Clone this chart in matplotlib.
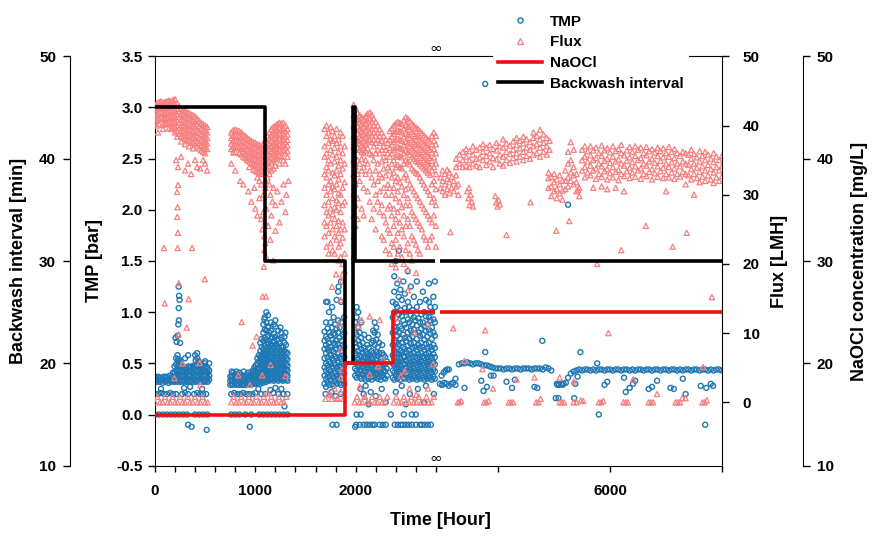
import numpy as np
import matplotlib.pyplot as plt
from matplotlib.lines import Line2D

plt.rcParams['font.family'] = ['Liberation Sans', 'DejaVu Sans']
plt.rcParams['font.weight'] = 'bold'

# ---------------- data (hours, values) ----------------
# TMP [bar], dense clusters as (time, [values...]) columns
tmp_a = [
    (0, [.33, .36]), (15, [.32, .35]), (30, [.34, .37]), (45, [.32, .36]), (60, [.33, .36]),
    (75, [.31, .35]), (90, [.34, .37]), (105, [.32, .36]), (120, [.33, .37]), (135, [.31, .35]),
    (150, [.34, .38]), (165, [.32, .36]), (180, [.33, .37, .41]), (195, [.32, .36, .41, .47]),
    (210, [.33, .38, .43, .49, .55]), (225, [.32, .36, .42, .47, .53, .58]), (240, [.34, .39, .44, .5, .54]),
    (255, [.32, .37, .42, .47, .52]), (270, [.33, .38, .43, .48]), (285, [.32, .37, .42, .46]),
    (300, [.34, .39, .44]), (315, [.32, .36, .41, .45]), (330, [.33, .38, .43, .47]),
    (345, [.32, .37, .42, .46]), (360, [.33, .38, .43, .47]), (375, [.32, .36, .41, .45]),
    (390, [.34, .39, .44, .48]), (405, [.32, .37, .42, .47, .53]), (420, [.33, .38, .43, .48, .55]),
    (435, [.32, .37, .42, .47, .52]), (450, [.34, .39, .44, .49]), (465, [.32, .36, .41, .46]),
    (480, [.33, .38, .43, .47]), (495, [.32, .37, .42, .46, .5]), (510, [.33, .38, .42, .47]),
    (525, [.32, .36, .41, .45]), (540, [.34, .38, .43, .5]),
]
tmp_b = [
    (750, [.29, .33, .37]), (765, [.3, .34, .38, .42]), (780, [.29, .33, .37, .41]), (795, [.31, .35, .39]),
    (810, [.29, .33, .37, .42]), (825, [.3, .34, .38]), (840, [.29, .33, .37, .41]), (855, [.31, .35, .39]),
    (870, [.29, .33, .37]), (885, [.3, .34, .38, .42]), (900, [.29, .33, .37]), (915, [.31, .35, .39]),
    (930, [.29, .33, .37, .41]), (945, [.3, .34, .38]), (960, [.29, .33, .37, .41]),
    (975, [.31, .35, .39, .43]), (990, [.3, .34, .38, .42, .46]), (1005, [.31, .35, .39, .43, .48]),
    (1020, [.3, .35, .4, .45, .5, .55]), (1035, [.31, .36, .41, .46, .52, .58]),
    (1050, [.3, .35, .4, .45, .5, .56, .62, .7]), (1065, [.32, .37, .42, .47, .53, .59, .66, .74]),
    (1080, [.31, .36, .41, .46, .52, .58, .64, .72, .8, .88]),
    (1095, [.33, .38, .43, .48, .54, .6, .67, .75, .83, .95]),
    (1110, [.32, .37, .42, .47, .53, .59, .65, .73, .82, .9, 1.0]),
    (1125, [.34, .39, .44, .5, .56, .62, .69, .77, .86, .97]),
    (1140, [.33, .38, .43, .48, .54, .6, .66, .72, .8]),
    (1155, [.35, .4, .45, .5, .56, .62, .68, .74, .82, .9]),
    (1170, [.34, .39, .44, .49, .55, .61, .67, .75]),
    (1185, [.33, .38, .43, .48, .54, .6, .66, .72, .79, .88]),
    (1200, [.35, .4, .45, .5, .56, .62, .68, .76, .86, .92]),
    (1215, [.34, .39, .44, .49, .55, .61, .67, .73]),
    (1230, [.33, .38, .43, .48, .54, .6, .66, .74, .82]),
    (1245, [.35, .4, .45, .5, .56, .62, .69]),
    (1260, [.34, .39, .44, .49, .55, .61, .67, .75, .8]),
    (1275, [.33, .38, .43, .48, .54, .6, .66]),
    (1290, [.35, .4, .45, .5, .56, .62, .7, .76]),
    (1305, [.34, .39, .44, .49, .55, .61, .68]),
    (1320, [.33, .38, .43, .48, .54, .6]),
]
tmp_c = [
    (1690, [.3, .38, .46, .55, .64, .72, .81]), (1705, [.27, .35, .43, .5, .6, .68, .76, .9, 1.1]),
    (1720, [.32, .4, .48, .56, .65, .74, .84]), (1735, [.29, .37, .44, .52, .62, .7, .8, 1.0]),
    (1750, [.34, .42, .5, .58, .66, .77, .9]), (1765, [.3, .39, .47, .55, .63, .73, .85, 1.05]),
    (1780, [.28, .36, .45, .53, .61, .7, .79, .95]), (1795, [.33, .41, .49, .57, .68, .78, .88]),
    (1810, [.3, .38, .46, .55, .64, .72, .84, 1.12]), (1825, [.35, .43, .51, .6, .69, .8, .92, 1.2]),
    (1840, [.31, .4, .48, .56, .65, .75, .85]), (1855, [.29, .37, .46, .54, .62, .72, .9, 1.1, 1.3]),
    (1870, [.33, .41, .5, .58, .68, .78]), (1885, [.3, .4, .48, .56, .66, .8, .95]),
]
tmp_d = [
    (1995, [.38, .45, .52, .6, .7, .8, .9]), (2010, [.36, .43, .5, .58, .66, .78, .95, 1.05]),
    (2025, [.4, .47, .54, .62, .72, .85, 1.0]), (2040, [.37, .44, .51, .58, .68, .8]),
    (2055, [.35, .42, .49, .56, .64, .75, .9]), (2070, [.39, .46, .53, .6, .7]),
    (2085, [.36, .43, .5, .57, .65, .78]), (2100, [.34, .41, .48, .55, .62]),
    (2115, [.38, .45, .52, .59, .68]), (2130, [.35, .42, .49, .56, .65, .75]),
    (2145, [.37, .44, .51, .58]), (2160, [.34, .41, .48, .55, .62, .7]),
    (2175, [.38, .45, .52, .6, .72, .82]), (2190, [.36, .43, .5, .58, .68, .8, .9]),
    (2205, [.39, .46, .53, .61, .73, .85]), (2220, [.35, .42, .49, .57, .66, .78]),
    (2235, [.37, .44, .51, .6, .7]), (2250, [.34, .41, .48, .55]), (2265, [.38, .45, .52, .6, .68]),
    (2280, [.36, .43, .5, .58]), (2295, [.35, .42, .49, .56]), (2310, [.38, .45, .52]),
    (2370, [.36, .43, .5, .58, .68, .8, .95, 1.1]), (2385, [.34, .41, .48, .55, .63, .72, .85, 1.0, 1.2, 1.35]),
    (2400, [.38, .45, .52, .6, .7, .82, .94, 1.08, 1.5]), (2415, [.35, .42, .49, .56, .65, .77, .9, 1.05, 1.28]),
    (2430, [.37, .44, .51, .59, .68, .8, .98, 1.15, 1.6]), (2445, [.34, .41, .48, .55, .62, .74, .86, 1.02, 1.22]),
    (2460, [.38, .45, .52, .6, .7, .84, .96, 1.12]), (2475, [.36, .43, .5, .57, .66, .78, .92, 1.3]),
    (2490, [.35, .42, .49, .56, .64, .75, .88, 1.04, 1.18]), (2505, [.39, .46, .53, .61, .72, .85, 1.0]),
    (2520, [.36, .43, .5, .58, .67, .8, .93, 1.1, 1.4]), (2535, [.34, .41, .48, .55, .63, .74, .9, 1.05]),
    (2550, [.37, .44, .51, .59, .69, .82, .97, 1.25]), (2565, [.35, .42, .49, .56, .65, .76, .88, 1.02]),
    (2580, [.38, .45, .52, .6, .7, .83, .95, 1.15]), (2595, [.36, .43, .5, .57, .66, .79, .92]),
    (2610, [.34, .41, .48, .55, .63, .74, .87, 1.05, 1.3]), (2625, [.37, .44, .51, .59, .68, .8, .94]),
    (2640, [.35, .42, .49, .56, .65, .77, .9, 1.1]), (2655, [.38, .45, .52, .6, .7, .84, .98]),
    (2670, [.36, .43, .5, .57, .66, .78, .9, 1.2]), (2685, [.34, .41, .48, .55, .63, .73, .86, 1.0]),
    (2700, [.37, .44, .51, .59, .69, .82, .96, 1.12]), (2715, [.35, .42, .49, .56, .65, .76, .88]),
    (2730, [.38, .45, .52, .6, .7, .83, .95, 1.1, 1.28]), (2745, [.36, .43, .5, .57, .66, .79, .92, 1.05]),
    (2760, [.34, .41, .48, .55, .63, .74, .85, 1.0]), (2775, [.37, .44, .51, .59, .68, .8, .93, 1.15]),
    (2790, [.35, .42, .49, .56, .65, .77, .9, 1.05, 1.3]),
]
# the flat TMP band after the axis break
tmp_band_t = [2960, 3000, 3040, 3080, 3120, 3160, 3200, 3240,
              3300, 3350, 3400, 3450, 3500, 3550, 3600, 3650, 3700, 3750, 3800, 3850,
              3900, 3950, 4000, 4050, 4100, 4150, 4200, 4250, 4300, 4350, 4400, 4450,
              4500, 4550, 4600, 4650, 4700, 4750, 4800, 4850, 4900, 4950,
              5050, 5090, 5130, 5170, 5210, 5250, 5300, 5350, 5400,
              5450, 5500, 5550, 5600, 5650, 5700, 5750, 5800, 5850, 5900, 5950, 6000,
              6050, 6100, 6150, 6200, 6250, 6300, 6350, 6400, 6450, 6500, 6550, 6600,
              6650, 6700, 6750, 6800, 6850, 6900, 6950, 7000, 7050, 7100, 7150, 7200,
              7250, 7300, 7350, 7400, 7450, 7500, 7550, 7600, 7650, 7700, 7750, 7800,
              7850, 7900, 7950, 8000]
tmp_band_v = [.3, .29, .31, .3, .28, .3, .31, .29,
              .49, .5, .5, .51, .5, .49, .5, .5, .49, .48, .48, .47,
              .46, .45, .45, .45, .44, .45, .45, .44, .45, .45, .44, .45,
              .45, .45, .44, .45, .45, .45, .44, .46, .45, .43,
              .3, .29, .3, .3, .31, .36, .4, .42, .43,
              .44, .43, .44, .44, .43, .44, .43, .44, .44, .43, .44, .44,
              .43, .44, .44, .43, .44, .44, .43, .44, .43, .44, .44, .43,
              .44, .44, .43, .44, .44, .43, .44, .44, .43, .44, .44, .43,
              .44, .43, .44, .44, .43, .44, .44, .43, .44, .44, .43, .44,
              .43, .44, .44, .43]
# isolated TMP points (time, value)
tmp_scatter = [
    (215, .71), (225, .77), (232, .88), (238, .92), (236, 1.04), (240, 1.16), (235, 1.25), (245, 1.12),
    (205, .75), (250, .7), (300, .55), (330, .58), (400, .58), (420, .6), (500, .52), (290, .26),
    (350, .27), (470, .25), (330, -.1), (365, -.12), (515, -.15), (60, .25),
    (0, .2), (30, .2), (60, .21), (90, .2), (120, .2), (150, .21), (180, .2), (210, .2), (270, .2),
    (300, .21), (330, .2), (390, .2), (420, .21), (450, .2), (480, .2), (510, .2),
    (0, 0), (40, 0), (80, 0), (120, 0), (160, 0), (200, 0), (240, 0), (280, 0), (320, 0),
    (400, 0), (440, 0), (480, 0), (520, 0),
    (1090, .93), (1130, .85), (1250, .85), (1300, .8), (1030, .25), (1150, .24), (1200, .26),
    (1290, .08), (945, -.12), (1260, .25),
    (760, .2), (790, .21), (820, .2), (850, .2), (880, .21), (910, .2), (940, .2), (970, .2),
    (1000, .21), (1060, .2), (1100, .2), (1180, .21), (1230, .2), (1280, .2), (1320, .2),
    (760, 0), (800, 0), (840, 0), (900, 0), (960, 0), (1040, 0), (1080, 0), (1120, 0), (1160, 0),
    (1200, 0), (1240, 0), (1280, 0), (1320, 0),
    (1700, .2), (1760, .22), (1800, .18), (1850, .2), (1770, -.1), (1810, -.1), (1720, 1.1), (1830, 1.25),
    (2010, 0), (2050, 0), (2350, 0), (2560, 0), (2600, 0), (2480, 0),
    (1995, -.12), (2005, -.1), (2040, -.1), (2080, -.1), (2110, -.1), (2140, -.1), (2170, -.1),
    (2190, -.1), (2240, -.1), (2270, -.1), (2300, -.1), (2390, -.1), (2420, -.1), (2450, -.1),
    (2470, -.1), (2500, -.1), (2530, -.1), (2560, -.1), (2600, -.1), (2640, -.1), (2660, -.1),
    (2690, -.1), (2720, -.1), (2750, -.1),
    (2050, .25), (2080, .2), (2100, .28), (2150, .22), (2200, .18), (2260, .25), (2400, .22),
    (2460, .28), (2540, .2), (2620, .25), (2700, .28), (2780, .2), (2130, .1), (2300, .12),
    (2500, .1), (2680, .12),
    (2990, .38), (3030, .41), (3060, .43), (3000, .29), (3090, .44), (3120, .44), (3240, .35),
    (3400, .26), (3700, .33), (3770, .61), (3740, .23), (3800, .27), (3870, .38), (3920, .38),
    (4150, .32), (4250, .26), (4300, .34), (4650, .27), (4700, .26), (4790, .72), (5030, .16),
    (5080, .16), (5060, .29), (5150, .29), (5360, .16), (5420, .37), (5470, .61), (5380, .3),
    (5770, .5), (5800, 0), (5900, .29), (5950, .32), (6250, .36), (6280, .22), (6350, .26),
    (6410, .3), (6450, .33), (6690, .25), (6750, .27), (6840, .33), (7080, .26), (7140, .25),
    (7300, .35), (7350, .2), (7620, .28), (7700, -.1), (7720, .26), (7800, .3), (7840, .28),
    (5250, 2.05), (3770, 3.23),
]

# Flux [LMH]
flux_a = [
    (0, [43, 42.2, 41.4, 40.6]), (20, [43.2, 42.4, 41.6, 40.8, 40]), (40, [43.4, 42.6, 41.8, 41, 40.2]),
    (60, [43.5, 42.7, 41.9, 41.1]), (80, [43.3, 42.5, 41.7, 40.9, 40.1, 39.5]),
    (100, [43.4, 42.6, 41.8, 41, 40.2]), (120, [43.5, 42.7, 41.9, 41.1, 40.3]),
    (140, [43.6, 42.8, 42, 41.2, 40.4, 39.6]), (160, [43.5, 42.7, 41.9, 41.1, 40.3, 39.5]),
    (180, [43.7, 42.9, 42.1, 41.3, 40.5, 39.7]), (200, [43.8, 43, 42.2, 41.4, 40.6, 39.8, 39]),
    (220, [43.2, 42.4, 41.6, 40.8, 40, 39.2, 38.4]), (240, [42.8, 42, 41.2, 40.4, 39.6, 38.8]),
    (260, [42.5, 41.7, 40.9, 40.1, 39.3, 38.5, 37.7]), (280, [42.3, 41.5, 40.7, 39.9, 39.1, 38.3]),
    (300, [42.1, 41.3, 40.5, 39.7, 38.9, 38.1, 37.3]), (320, [41.9, 41.1, 40.3, 39.5, 38.7, 37.9]),
    (340, [41.8, 41, 40.2, 39.4, 38.6, 37.8, 37]), (360, [41.6, 40.8, 40, 39.2, 38.4, 37.6]),
    (380, [41.5, 40.7, 39.9, 39.1, 38.3, 37.5, 36.7]), (400, [41.3, 40.5, 39.7, 38.9, 38.1, 37.3]),
    (420, [41, 40.2, 39.4, 38.6, 37.8, 37]), (440, [40.7, 39.9, 39.1, 38.3, 37.5, 36.7]),
    (460, [40.4, 39.6, 38.8, 38, 37.2, 36.4]), (480, [40.2, 39.4, 38.6, 37.8, 37, 36.2]),
    (500, [40, 39.2, 38.4, 37.6, 36.8, 36]), (520, [39.8, 39, 38.2, 37.4, 36.6]),
]
flux_b = [
    (760, [39, 38.2, 37.4, 36.6]), (780, [39.3, 38.5, 37.7, 36.9, 36.1]), (800, [39.4, 38.6, 37.8, 37, 36.2]),
    (820, [39.3, 38.5, 37.7, 36.9]), (840, [39.2, 38.4, 37.6, 36.8, 36]), (860, [39, 38.2, 37.4, 36.6, 35.8]),
    (880, [38.7, 37.9, 37.1, 36.3, 35.5]), (900, [38.5, 37.7, 36.9, 36.1, 35.3]),
    (920, [38.2, 37.4, 36.6, 35.8, 35]), (940, [38, 37.2, 36.4, 35.6, 34.8, 34]),
    (960, [37.8, 37, 36.2, 35.4, 34.6]), (980, [37.6, 36.8, 36, 35.2, 34.4, 33.6]),
    (1000, [37.5, 36.7, 35.9, 35.1, 34.3, 33.5]), (1020, [37.3, 36.5, 35.7, 34.9, 34.1, 33.3, 32.5]),
    (1040, [37.2, 36.4, 35.6, 34.8, 34, 33.2, 32]), (1060, [37, 36.2, 35.4, 34.6, 33.8, 33, 31.5]),
    (1080, [37.4, 36.6, 35.8, 35, 34.2, 33.4, 30]), (1100, [37.8, 37, 36.2, 35.4, 34.6, 33.8, 33, 32, 31]),
    (1120, [38.5, 37.7, 36.9, 36.1, 35.3, 34.5, 33.7, 32.5]),
    (1140, [39, 38.2, 37.4, 36.6, 35.8, 35, 34.2, 33, 31.5]),
    (1160, [39.5, 38.7, 37.9, 37.1, 36.3, 35.5, 34.7, 33.5]),
    (1180, [39.8, 39, 38.2, 37.4, 36.6, 35.8, 35, 33.8]),
    (1200, [40, 39.2, 38.4, 37.6, 36.8, 36, 35.2, 34.2]), (1220, [40.2, 39.4, 38.6, 37.8, 37, 36.2, 35.4]),
    (1240, [40.4, 39.6, 38.8, 38, 37.2, 36.4, 35.6, 34.5]), (1260, [40.3, 39.5, 38.7, 37.9, 37.1, 36.3, 35.5]),
    (1280, [40.4, 39.6, 38.8, 38, 37.2, 36.4, 35]), (1300, [40, 39.2, 38.4, 37.6, 36.8, 36, 34.5]),
    (1320, [39.5, 38.7, 37.9, 37.1, 36.3, 35.5]),
]
flux_c = [
    (1690, [39.5, 37, 35.5, 33, 31, 28.5, 26, 24]), (1710, [40, 38.5, 36, 34, 32.5, 30, 27.5, 25.5, 22.5]),
    (1730, [39, 37.5, 35, 33.5, 31.5, 29, 27, 24.5, 21.5]), (1750, [39.8, 38, 36.5, 34.5, 32, 30.5, 28, 26, 23]),
    (1770, [39.2, 37.8, 35.8, 33.2, 31.2, 29.5, 27.2, 25, 22]),
    (1790, [38.5, 36.8, 34.8, 32.8, 30.8, 28.2, 26.5, 24, 21.5]),
    (1810, [39.5, 37.5, 35.5, 33.5, 31.5, 29.2, 27.8, 25.5, 23.5]),
    (1830, [38, 36.2, 34.2, 32.2, 30.2, 28.8, 26.2, 24.5, 22.5, 20.5]),
    (1850, [39, 37, 35, 33, 30, 27.5, 25, 23, 21]), (1870, [38.5, 36, 33.8, 31, 28.5, 26, 23.8, 20, 18.5]),
    (1890, [37, 34.5, 31.8, 29, 25, 21.5, 19]),
]
flux_d = [
    (1980, [43, 41.5, 40, 38.5, 37, 35, 33, 30, 27, 24, 21]), (2000, [42.5, 41, 39.5, 38, 36.5, 34, 31.5, 28.5, 25.5]),
    (2020, [41.8, 40.8, 39.8, 38.8, 37.8, 36.8, 35, 33, 29.5, 26.5]), (2040, [41.5, 40.5, 39.5, 38.5, 37.5, 36.5, 34.5, 32]),
    (2060, [41.2, 40.2, 39.2, 38.2, 37.2, 36.2, 35.2, 33.5, 28]), (2080, [41, 40, 39, 38, 37, 36, 34, 31, 27]),
    (2100, [41.4, 40.4, 39.4, 38.4, 37.4, 36.4, 35, 33]), (2120, [41.7, 40.7, 39.7, 38.7, 37.7, 36.7, 34.5, 30.5]),
    (2140, [41.9, 40.9, 39.9, 38.9, 37.9, 36, 33.5, 29]), (2160, [41.6, 40.6, 39.6, 38.6, 37.6, 35.8, 32.5, 26.5]),
    (2180, [41, 40, 39, 38, 37, 35, 31.5, 28]), (2200, [40.5, 39.5, 38.5, 37.5, 36, 33.5, 30, 25]),
    (2220, [40, 39, 38, 36.5, 34.5, 32, 29]), (2240, [39.5, 38.5, 37.5, 36, 33, 30.5, 27.5]),
    (2260, [39, 37.8, 36.5, 34.8, 32.5, 28.5, 24]), (2280, [38.5, 37, 35.5, 33.8, 31, 27, 23.5]),
    (2300, [38, 36.5, 35, 32.8, 30, 26, 22]), (2320, [37.5, 36, 34, 31.5, 28, 25]),
    (2340, [39.2, 38, 36.8, 35.5, 33.5, 31, 28.5, 24.5, 21.5]),
    (2360, [39.6, 38.4, 37.2, 36, 34.5, 32.5, 30, 27, 23, 20]),
    (2380, [40, 38.8, 37.6, 36.4, 35, 33.2, 31, 28, 25.5, 22.5]),
    (2400, [40.3, 39.1, 37.9, 36.7, 35.5, 34, 32, 29.5, 26.5, 23.5, 19.5]),
    (2420, [40.5, 39.3, 38.1, 36.9, 35.7, 34.3, 32.5, 30.5, 27.5, 24.5, 21.5]),
    (2440, [40.4, 39.2, 38, 36.8, 35.6, 34, 31.8, 29, 26, 22.5]),
    (2460, [40.2, 39, 37.8, 36.6, 35.4, 33.8, 31.2, 28.2, 25, 21]),
    (2480, [40.8, 39.6, 38.4, 37.2, 36, 34.5, 32.5, 30, 27, 24, 20]),
    (2500, [41.2, 40, 38.8, 37.6, 36.4, 35, 33, 30.8, 28.5, 25.5, 22]),
    (2520, [41, 39.8, 38.6, 37.4, 36.2, 34.8, 32.2, 29.5, 26.5, 23, 19.2]),
    (2540, [40.6, 39.4, 38.2, 37, 35.8, 34.4, 31.5, 28.5, 25.5, 21.5]),
    (2560, [40.3, 39.1, 37.9, 36.7, 35.5, 33.8, 31, 27.5, 24, 20.5]),
    (2580, [40, 38.8, 37.6, 36.4, 35.2, 33.5, 30.5, 27, 23.5]),
    (2600, [39.7, 38.5, 37.3, 36.1, 34.9, 33.2, 30, 26.5, 22.8]),
    (2620, [39.5, 38.3, 37.1, 35.9, 34.7, 33, 29.5, 26, 22]),
    (2640, [39.2, 38, 36.8, 35.6, 34.4, 32.5, 29, 25.5, 21.5]),
    (2660, [38.9, 37.7, 36.5, 35.3, 34.1, 32, 28.5, 25]),
    (2680, [38.6, 37.4, 36.2, 35, 33.8, 31.5, 28, 24]),
    (2700, [38.3, 37.1, 35.9, 34.7, 33.5, 31, 27.5, 23.5]),
    (2720, [38, 36.8, 35.6, 34.4, 33.2, 30.5, 27, 22.5]),
    (2740, [37.7, 36.5, 35.3, 34.1, 32.9, 30, 26.5, 23.5]),
    (2760, [38.5, 37.3, 36.1, 34.9, 33.5, 31.5, 29, 26, 24]),
    (2780, [39, 37.8, 36.6, 35.4, 34, 32, 29.5, 27]),
    (2800, [38.5, 37.3, 36, 34.5, 33, 30.8, 28.5, 25.5, 22.5]),
]
flux_e = [
    (2970, [31, 32.5]), (3010, [30.5, 32, 33.5]), (3050, [30, 31.5, 33]), (3090, [30.8, 32.3, 33.6]),
    (3130, [30.2, 31.8, 33.2]), (3170, [31, 32.6]), (3210, [30.5, 32]), (3250, [31.2, 32.8, 34, 35.2]),
    (3290, [30, 31.5]), (3310, [34.5, 35.8]), (3370, [34, 35, 36.2]), (3430, [34.2, 35.5, 36.6]),
    (3490, [34, 35, 36.3]), (3550, [34.5, 35.8, 37]), (3610, [34.2, 35.2, 36.5]),
    (3670, [34, 35.4, 36.8]), (3730, [35, 36.2, 37.3]), (3790, [34.3, 35.6, 36.8]),
    (3850, [34.8, 36, 37.2]), (3910, [34, 35.3, 36.6]), (3970, [35.1, 36.4, 37.5]),
    (4030, [34.5, 35.8, 37]), (4090, [34.2, 35.5, 36.8, 38]), (4150, [35, 36.2, 37.4]),
    (4210, [34.6, 35.9, 37.1]), (4270, [35.3, 36.5, 37.7]), (4330, [34.8, 36, 37.2, 38.2]),
    (4390, [35.5, 36.7, 37.8]), (4450, [35, 36.2, 37.4, 38.4]), (4510, [35.6, 36.8, 38]),
    (4570, [35.2, 36.5, 37.6]), (4630, [35.8, 37, 38.2, 39]), (4690, [36, 37.3, 38.5]),
    (4750, [35.5, 36.8, 38, 39.4]), (4810, [36.2, 37.5, 38.7]), (4870, [35.8, 37, 38.2]),
    (4920, [36.5, 37.8]),
    (4900, [31, 32.4, 33.2]), (4950, [29.8, 31.2, 32.6]), (5000, [30.5, 31.8, 33]), (5050, [29.5, 30.8, 32.2]),
    (5100, [30.2, 31.5, 32.8]), (5150, [29.3, 30.6, 32]), (5200, [30.8, 32, 33.5]),
    (5250, [31.2, 32.5, 34.5, 36.2]), (5300, [32, 33.2, 35, 37.6]), (5350, [31.5, 32.8, 34, 36.5]),
    (5400, [30.5, 31.8, 33]), (5450, [29.8, 31]),
]
flux_h = [
    (5500, [33.5, 35, 36.5]), (5550, [32.5, 34, 35.5, 37]), (5600, [33.2, 34.8, 36.3]), (5650, [32.8, 34.2, 35.7, 37]),
    (5700, [33.5, 35, 36.4]), (5750, [32.3, 33.8, 35.3, 36.8]), (5800, [33, 34.5, 36]), (5850, [32.6, 34.1, 35.6, 37.1]),
    (5900, [33.4, 34.9, 36.4]), (5950, [32.2, 33.7, 35.2, 36.7]), (6000, [33.1, 34.6, 36.1]),
    (6050, [32.5, 34, 35.5, 37]), (6100, [33.3, 34.8, 36.3]), (6150, [32.1, 33.6, 35.1, 36.6]),
    (6200, [33, 34.5, 36, 37.2]), (6250, [32.7, 34.2, 35.7]), (6300, [33.4, 34.9, 36.4]),
    (6350, [32.4, 33.9, 35.4, 36.9]), (6400, [33.2, 34.7, 36.2]), (6450, [32.6, 34.1, 35.6, 37]),
    (6500, [33.5, 35, 36.5]), (6550, [32.3, 33.8, 35.3, 36.8]), (6600, [33, 34.5, 36]),
    (6650, [32.7, 34.2, 35.7, 36.9]), (6700, [33.3, 34.8, 36.3]), (6750, [32.2, 33.7, 35.2, 36.6]),
    (6800, [33.1, 34.6, 36.1]), (6850, [32.6, 34.1, 35.6, 36.8]), (6900, [33.4, 34.9, 36.3]),
    (6950, [32.4, 33.9, 35.4, 36.7]), (7000, [33, 34.5, 36]), (7050, [32.5, 34, 35.5, 36.9]),
    (7100, [33.2, 34.7, 36.2]), (7150, [32.3, 33.8, 35.3, 36.6]), (7200, [33, 34.5, 36]),
    (7250, [32.6, 34.1, 35.6]), (7300, [33.3, 34.8, 36.2]), (7350, [31.5, 33, 34.5, 36]),
    (7400, [32.8, 34.3, 35.8]), (7450, [32.2, 33.7, 35.2, 36.5]), (7500, [33, 34.5, 35.9]),
    (7550, [32.4, 33.9, 35.4]), (7600, [31.8, 33.3, 34.8, 36.3]), (7650, [32.6, 34.1, 35.6]),
    (7700, [32, 33.5, 35, 36.2]), (7750, [32.8, 34.3, 35.8]), (7800, [32.2, 33.7, 35.2]),
    (7850, [31.7, 33.2, 34.7, 36]), (7900, [32.5, 34, 35.5]), (7950, [32, 33.5, 35]),
    (8000, [32.7, 34.2, 35.6]),
]
flux_scatter = [
    (210, 35), (230, 34), (260, 35.5), (300, 33.5), (330, 34.5), (360, 33), (400, 35), (420, 34),
    (450, 33.8), (480, 35), (500, 34.5), (520, 33.5), (230, 31.4), (220, 30.4), (225, 28.2),
    (222, 26.8), (228, 24.5), (225, 22.3), (90, 22.3), (370, 22.3), (10, 41), (30, 39),
    (760, 34.5), (800, 33.5), (850, 32), (880, 31.5), (930, 30.5), (960, 29), (990, 31), (1000, 28),
    (1020, 27), (1040, 29.5), (1060, 26.5), (1070, 25), (1080, 27.5), (1090, 24), (1100, 26),
    (1100, 23), (1110, 28), (1130, 25.5), (1150, 30), (1160, 27), (1170, 29), (1180, 31),
    (1200, 28.5), (1220, 30.5), (1240, 26), (1260, 29), (1280, 31.5), (1300, 27.5), (1310, 30),
    (1330, 32), (1090, 22), (1110, 21), (1085, 19.6), (1150, 23.5), (1180, 20.5), (1200, 24.8),
    (97, 14.3), (237, 17.2), (336, 14.9), (497, 17.8), (316, 10.8), (237, 9.8), (276, 5.6),
    (193, 3.5), (451, 2.5), (445, 5.7), (864, 11.6), (974, 8.2), (1013, 9.5), (1073, 15.3),
    (1106, 15.3), (830, 3.9), (946, 2.5), (1069, 3.9), (1152, 5.4), (1300, 3.8), (1119, 1.3),
    (1805, 18.5), (1765, 16.7), (1865, 17.5), (1850, 14.8), (1835, 11.4), (1850, 7.6), (1865, 4.7),
    (1750, 1.1), (1818, 0.6), (1855, 3.6), (2025, 11), (2058, 11.9), (2140, 4), (2222, 5.2),
    (2140, 12.4), (2240, 11.9), (2437, 17.7), (2520, 16.2), (2603, 18.7), (2404, 12.2),
    (2587, 10), (2720, 11.2), (2537, 2), (2603, 1.1), (2720, 2), (2770, 5.5), (2490, 4.5),
    (2450, 3.8), (2272, 6.2), (2040, 2.3), (2090, 0.9),
    (3450, 30.5), (3470, 29.5), (3490, 28.5), (3510, 30), (3530, 29), (3550, 28.3), (3480, 31),
    (3950, 29.8), (3970, 28.9), (3990, 28.3), (4010, 29.2), (4030, 28.6),
    (5430, 30.7), (5700, 31), (5850, 31.2), (5950, 30.8), (6100, 31), (6250, 30.5), (7000, 30.5),
    (7500, 30), (3150, 24.6), (4150, 24.2), (5040, 24.8), (4580, 28.9), (5270, 26.2), (5770, 20),
    (6200, 22), (6640, 25.5), (7120, 22.5), (7370, 24.5), (3200, 10.7), (3770, 10.4), (5970, 10),
    (7820, 15.2), (3400, 6), (3720, 4.8), (3910, 2), (4330, 3.3), (4650, 3.6), (5100, 3.6),
    (5350, 3), (6410, 3.3), (6840, 1.2), (7350, 0.6), (7660, 5.1), (5520, 0.2),
]
# flux readings near zero (cleaning periods)
flux_zero = [
    (0, 0), (25, .8), (50, 0), (75, 0), (100, .8), (125, 0), (150, 0), (175, .8), (200, 0), (225, 0),
    (250, .8), (275, 0), (300, 0), (325, .8), (350, 0), (375, 0), (400, .8), (425, 0), (450, 0),
    (475, .8), (500, 0), (525, 0),
    (760, 0), (785, .8), (810, 0), (835, 0), (860, .8), (885, 0), (910, 0), (935, .8), (960, 0),
    (985, 0), (1010, .8), (1035, 0), (1060, 0), (1085, .8), (1110, 0), (1135, 0), (1160, .8),
    (1185, 0), (1210, 0), (1235, .8), (1260, 0), (1285, 0), (1310, .8),
    (1700, .5), (1730, 1.2), (1760, .5), (1790, 2), (1820, .5), (1850, 1.5), (1880, .5),
    (1990, 0), (2015, .8), (2040, 0), (2065, 0), (2090, .8), (2115, 0), (2140, 0), (2165, .8),
    (2190, 0), (2215, 0), (2240, .8), (2265, 0), (2290, 0), (2315, .8), (2380, 0), (2405, .8),
    (2430, 0), (2455, 0), (2480, .8), (2505, 0), (2530, 0), (2555, .8), (2580, 0), (2605, 0),
    (2630, .8), (2655, 0), (2680, 0), (2705, .8), (2730, 0), (2755, 0), (2780, .8),
    (3280, 0), (3310, 0), (3340, .2), (3750, 0), (3790, 0), (3830, .2), (4190, 0), (4230, 0),
    (4270, 0), (4680, 0), (4720, 0), (4760, .5), (5100, 0), (5140, 0), (5180, 0), (5350, 0),
    (5400, 0), (5480, .3), (5800, 0), (5840, 0), (5880, .2), (6240, 0), (6280, 0), (6320, 0),
    (6690, 0), (6730, 0), (6770, 0), (7170, 0), (7210, 0), (7250, 0), (7290, .6), (7650, 0),
    (7690, 0), (7730, .3),
]

# step lines, split at the axis break
bw_t_left = [0, 1100, 1100, 1890, 1890, 1970, 1970, 1995, 1995, 2790]
bw_v_left = [45, 45, 30, 30, 20, 20, 45, 45, 30, 30]
bw_t_right = [2960, 8000]
bw_v_right = [30, 30]
naocl_t_left = [0, 1890, 1890, 2370, 2370, 2790]
naocl_v_left = [15, 15, 20, 20, 25, 25]
naocl_t_right = [2960, 8000]
naocl_v_right = [25, 25]

xtick_pos = [0, 200, 400, 600, 800, 1000, 1200, 1400, 1600, 1800, 2000, 2200, 2400, 2600, 2800,
             4000, 6000, 8000]
xtick_lab = {0: '0', 1000: '1000', 2000: '2000', 6000: '6000'}


def expand(cols):
    t, v = [], []
    for time, vals in cols:
        t += [time] * len(vals)
        v += vals
    return t, v


def pairs(p):
    return [a for a, b in p], [b for a, b in p]


# broken time axis: 0-2800 h and 2900-8000 h at different scales
brk_t = [0, 2800, 2900, 8000]
brk_u = [0, 281.4, 282.0, 568.0]


def fwd(t):
    return np.interp(t, brk_t, brk_u)


def inv(u):
    return np.interp(u, brk_u, brk_t)


BLUE = '#1f77b4'
SALMON = '#f77f7f'

fig = plt.figure(figsize=(8.79, 5.47), dpi=100)
ax = fig.add_axes([155 / 879, (547 - 465.7) / 547, 567 / 879, 409.4 / 547])
ax.set_xscale('function', functions=(fwd, inv))
ax.set_xlim(0, 8000)

ax_flux = ax.twinx()
ax_bw = ax.twinx()
ax_na = ax.twinx()

# TMP
tt, tv = [], []
for cols in (tmp_a, tmp_b, tmp_c, tmp_d):
    a, b = expand(cols)
    tt += a
    tv += b
a, b = pairs(tmp_scatter)
tt += a + tmp_band_t
tv += b + tmp_band_v
ax.scatter(tt, tv, s=13, marker='o', facecolors='none', edgecolors=BLUE, linewidths=1.0, zorder=2)

# Flux
ft, fv = [], []
for cols in (flux_a, flux_b, flux_c, flux_d, flux_e, flux_h):
    a, b = expand(cols)
    ft += a
    fv += b
for p in (flux_scatter, flux_zero):
    a, b = pairs(p)
    ft += a
    fv += b
ax_flux.scatter(ft, fv, s=14, marker='^', facecolors='none', edgecolors=SALMON, linewidths=0.9, zorder=2)

ax_na.plot(naocl_t_left, naocl_v_left, color='#ee1111', lw=2.6, solid_capstyle='butt')
ax_na.plot(naocl_t_right, naocl_v_right, color='#ee1111', lw=2.6, solid_capstyle='butt')
ax_bw.plot(bw_t_left, bw_v_left, color='black', lw=2.6, solid_capstyle='butt')
ax_bw.plot(bw_t_right, bw_v_right, color='black', lw=2.6, solid_capstyle='butt')

# y ranges
ax.set_ylim(-0.5, 3.5)
ax.set_yticks([-0.5, 0, 0.5, 1.0, 1.5, 2.0, 2.5, 3.0, 3.5])
ax.set_yticklabels(['-0.5', '0.0', '0.5', '1.0', '1.5', '2.0', '2.5', '3.0', '3.5'])
ax_flux.set_ylim(-9.16, 50)
ax_flux.set_yticks([0, 10, 20, 30, 40, 50])
ax_bw.set_ylim(10, 50)
ax_bw.set_yticks([10, 20, 30, 40, 50])
ax_na.set_ylim(10, 50)
ax_na.set_yticks([10, 20, 30, 40, 50])

# x ticks
ax.set_xticks(xtick_pos)
ax.set_xticklabels([xtick_lab.get(p, '') for p in xtick_pos])
ax.tick_params(axis='x', direction='out', length=4, width=1, labelsize=11, pad=9)

# spines
ax.spines['right'].set_visible(False)
for a_ in (ax_flux, ax_bw, ax_na):
    for s in ('top', 'bottom', 'left', 'right'):
        a_.spines[s].set_visible(False)
ax_flux.spines['right'].set_visible(True)
ax_bw.spines['left'].set_visible(True)
ax_bw.spines['left'].set_position(('axes', -85 / 567))
ax_bw.yaxis.set_ticks_position('left')
ax_bw.yaxis.set_label_position('left')
ax_na.spines['right'].set_visible(True)
ax_na.spines['right'].set_position(('axes', 1 + 81 / 567))

ax.tick_params(axis='y', direction='out', length=5, width=1, labelsize=11, pad=4)
ax_bw.tick_params(axis='y', direction='out', length=5, width=1, labelsize=11, pad=5)
ax_flux.tick_params(axis='y', direction='out', length=5, width=1, labelsize=11, pad=10)
ax_na.tick_params(axis='y', direction='out', length=5, width=1, labelsize=11, pad=5)

# labels
ax.set_xlabel('Time [Hour]', fontsize=13, fontweight='bold')
ax.xaxis.set_label_coords(0.503, -0.113)
ax.set_ylabel('TMP [bar]', fontsize=13, fontweight='bold')
ax.yaxis.set_label_coords(-0.092, 0.5)
ax_bw.set_ylabel('Backwash interval [min]', fontsize=13, fontweight='bold')
ax_bw.yaxis.set_label_coords(-0.226, 0.5)
ax_flux.set_ylabel('Flux [LMH]', fontsize=13, fontweight='bold')
ax_flux.yaxis.set_label_coords(1.086, 0.5)
ax_na.set_ylabel('NaOCl concentration [mg/L]', fontsize=13, fontweight='bold')
ax_na.yaxis.set_label_coords(1.2275, 0.5)

# axis-break marks
for yy in (3.5, -0.5):
    ax.text(2850, yy, '\u221e', ha='center', va='bottom', fontsize=11, fontweight='normal',
            family='DejaVu Sans', zorder=6)

handles = [
    Line2D([], [], ls='none', marker='o', mfc='none', mec=BLUE, ms=3.7, mew=1.0),
    Line2D([], [], ls='none', marker='^', mfc='none', mec=SALMON, ms=3.7, mew=0.9),
    Line2D([], [], color='#ee1111', lw=2.6),
    Line2D([], [], color='black', lw=2.6),
]
fig.legend(handles, ['TMP', 'Flux', 'NaOCl', 'Backwash interval'], loc='upper left',
           bbox_to_anchor=(493 / 879, 1 - 10 / 547), frameon=True, fancybox=False,
           edgecolor='none', facecolor='white', framealpha=1, fontsize=11,
           handlelength=2.9, handletextpad=0.55, labelspacing=0.44, borderpad=0.3,
           borderaxespad=0)

fig.savefig('out.png', dpi=100)
